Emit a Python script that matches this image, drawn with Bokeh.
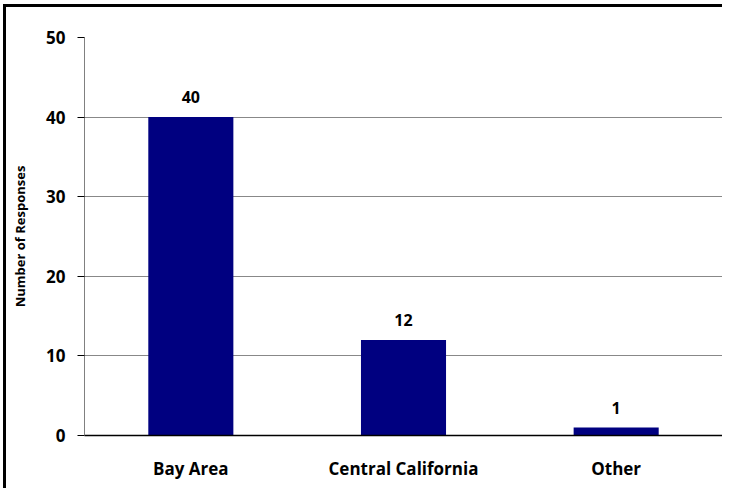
from bokeh.plotting import figure
from bokeh.models import FactorRange, Range1d, ColumnDataSource, LabelSet, FixedTicker
from bokeh.core.properties import value
from bokeh.embed import file_html
from bokeh.resources import INLINE

categories = ["Bay Area", "Central California", "Other"]
responses = [40, 12, 1]
y_ticks = [0, 10, 20, 30, 40, 50]
y_label = "Number of Responses"

FONT = "Open Sans"

src = ColumnDataSource(dict(cat=categories, val=responses, txt=[str(v) for v in responses]))

p = figure(x_range=FactorRange(*categories, range_padding=0), y_range=Range1d(0, 50),
           frame_width=638, frame_height=398, min_border_left=78, min_border_top=30,
           min_border_right=0, min_border_bottom=53,
           output_backend="svg", toolbar_location=None)
p.styles = {"border-left": "3px solid black", "border-top": "3px solid black",
            "margin-left": "3px", "margin-top": "4px"}
p.outline_line_color = None
p.background_fill_color = "white"
p.border_fill_color = "white"

p.vbar(x="cat", top="val", width=0.4, source=src, fill_color="#000080", line_color=None)

labels = LabelSet(x="cat", y="val", text="txt", source=src, text_align="center",
                  text_baseline="alphabetic", y_offset=14, text_font=value(FONT),
                  text_font_style="bold", text_font_size="16px", text_color="black")
p.add_layout(labels)

p.ygrid.ticker = FixedTicker(ticks=y_ticks)
p.ygrid.grid_line_color = "#888888"
p.ygrid.grid_line_width = 1
p.xgrid.grid_line_color = None

p.yaxis.ticker = FixedTicker(ticks=y_ticks)
p.yaxis.axis_label = y_label
p.yaxis.axis_label_text_font = FONT
p.yaxis.axis_label_text_font_style = "bold"
p.yaxis.axis_label_text_font_size = "13px"
p.yaxis.axis_label_text_color = "black"
p.yaxis.axis_label_standoff = 14
p.yaxis.major_label_text_font = FONT
p.yaxis.major_label_text_font_style = "bold"
p.yaxis.major_label_text_font_size = "17px"
p.yaxis.major_label_text_color = "black"
p.yaxis.major_label_standoff = 12
p.yaxis.axis_line_color = "#808080"
p.yaxis.major_tick_line_color = "black"
p.yaxis.major_tick_out = 7
p.yaxis.major_tick_in = 0
p.yaxis.minor_tick_line_color = None

p.xaxis.axis_line_color = "black"
p.xaxis.axis_line_width = 1.5
p.xaxis.major_tick_line_color = None
p.xaxis.major_tick_out = 0
p.xaxis.major_tick_in = 0
p.xaxis.major_label_standoff = 21
p.xaxis.major_label_text_font = FONT
p.xaxis.major_label_text_font_style = "bold"
p.xaxis.major_label_text_font_size = "17px"
p.xaxis.major_label_text_color = "black"

open("out.html", "w").write(file_html(p, INLINE))
